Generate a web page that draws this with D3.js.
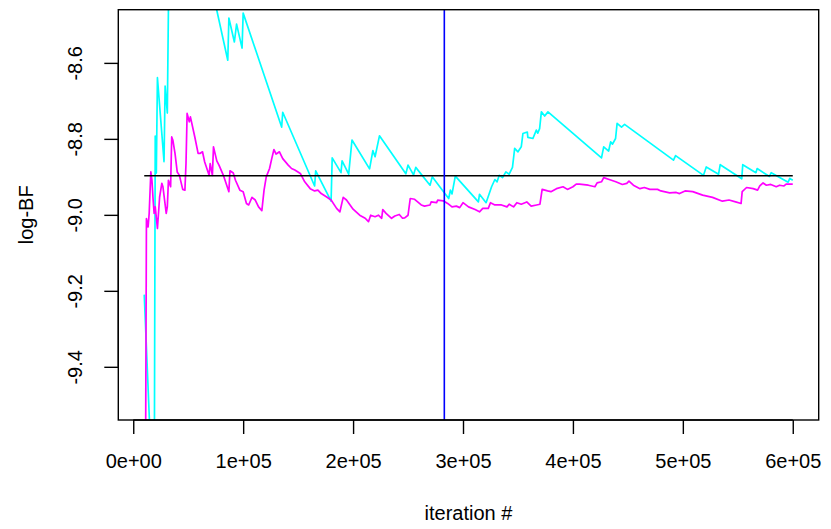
<!DOCTYPE html>
<html>
<head>
<meta charset="utf-8">
<script src="https://cdn.jsdelivr.net/npm/d3@7"></script>
<style>
  body { margin: 0; background: #fff; }
  svg { display: block; font-family: "Liberation Sans", Arial, sans-serif; }
</style>
</head>
<body>
<div id="chart"></div>
<script>

// iterations and log-BF estimates
const cyanIter = [10000, 15000, 19000, 20000, 21000, 22000, 28000, 29000, 31000, 32000, 34000, 45000, 55000, 66000,
  86000, 87000, 92000, 94000, 99000, 100000, 135000, 136000, 165000, 166000, 180000, 181000, 189000, 190000,
  196000, 199000, 215000, 218000, 220000, 224000, 248000, 250000, 255000, 257000, 270000, 272000, 283000,
  287000, 288500, 290000, 293000, 314000, 315000, 321000, 326000, 329000, 331000, 333000, 336000, 339000,
  342000, 345000, 347000, 350000, 353000, 354500, 358500, 359000, 363600, 366700, 368000, 369700, 371300,
  374300, 377300, 426000, 428000, 432500, 434300, 436000, 438800, 440200, 444200, 447000, 491500, 493400,
  518800, 521300, 532500, 534000, 553600, 554500, 566500, 567600, 578800, 580400, 595800, 597300, 600000];
const cyanLogBF = [-9.21, -9.56, -9.85, -8.793, -8.89, -8.639, -8.86, -8.661, -8.732, -8.459, -8.40, -8.29, -8.30, -8.33,
  -8.593, -8.482, -8.545, -8.498, -8.561, -8.469, -8.769, -8.730, -8.924, -8.884, -8.964, -8.850, -8.889, -8.858,
  -8.893, -8.803, -8.879, -8.831, -8.847, -8.792, -8.892, -8.869, -8.895, -8.875, -8.922, -8.900, -8.942,
  -8.957, -8.935, -8.945, -8.898, -8.966, -8.946, -8.968, -8.926, -8.907, -8.913, -8.896, -8.902, -8.887,
  -8.893, -8.875, -8.825, -8.834, -8.821, -8.786, -8.782, -8.796, -8.799, -8.777, -8.785, -8.773, -8.729,
  -8.740, -8.729, -8.850, -8.821, -8.832, -8.808, -8.814, -8.799, -8.759, -8.769, -8.762, -8.856, -8.844,
  -8.896, -8.874, -8.893, -8.868, -8.905, -8.868, -8.889, -8.878, -8.899, -8.889, -8.914, -8.904, -8.909];

const magentaIter = [10000, 11000, 12000, 13500, 14500, 16000, 17000, 18000, 19000, 20000, 22000, 24000, 26000, 27000,
  30000, 31000, 32000, 34000, 35000, 36000, 38000, 40000, 42000, 45000, 47000, 48000, 49000, 51000, 52000,
  56000, 59000, 61000, 63000, 65000, 69000, 70000, 72000, 73000, 76000, 78000, 82000, 87000, 88000, 91000,
  93000, 97000, 100000, 103000, 105000, 108000, 111000, 114000, 117000, 119000, 121000, 124000, 126000,
  128000, 130000, 133000, 136000, 141000, 144000, 147000, 152000, 156000, 161000, 165000, 168000, 171000,
  176000, 180000, 185000, 188000, 191000, 194000, 200000, 206000, 211000, 214000, 216000, 220000, 223000,
  226000, 227000, 230000, 235000, 238000, 242000, 245000, 247000, 250000, 252000, 256000, 262000, 265000,
  270000, 271000, 276000, 277000, 282000, 286000, 290000, 294000, 297000, 300000, 305000, 311000, 315000,
  318000, 323000, 325000, 329000, 335000, 340000, 342000, 346000, 349000, 353000, 358000, 362000, 367000,
  370000, 372000, 377000, 380000, 385000, 391000, 395000, 400000, 403000, 406000, 414000, 420000, 422000,
  426000, 428000, 433000, 439000, 445000, 449000, 451000, 455000, 461000, 465000, 470000, 477000, 480000,
  488000, 494000, 497000, 502000, 509000, 518000, 527000, 536000, 542000, 548000, 553000, 554000, 558000,
  564000, 568000, 570000, 573000, 576000, 580000, 585000, 588000, 592000, 594000, 600000];
const magentaLogBF = [-10.1, -9.80, -9.010, -9.032, -8.996, -8.887, -8.909, -8.957, -8.996, -8.979, -9.036, -8.953, -8.917, -8.926,
  -8.996, -8.979, -8.909, -8.926, -8.795, -8.803, -8.838, -8.887, -8.896, -8.933, -8.935, -8.865, -8.733, -8.755, -8.742,
  -8.795, -8.838, -8.838, -8.834, -8.861, -8.896, -8.865, -8.896, -8.821, -8.858, -8.869, -8.896, -8.939, -8.884, -8.890,
  -8.909, -8.935, -8.939, -8.970, -8.974, -8.954, -8.961, -8.979, -8.989, -8.935, -8.900, -8.878, -8.852,
  -8.828, -8.840, -8.834, -8.852, -8.869, -8.878, -8.882, -8.891, -8.913, -8.931, -8.937, -8.935, -8.944,
  -8.953, -8.961, -8.983, -8.992, -8.954, -8.961, -8.985, -9.001, -9.009, -9.018, -9.001, -9.005, -9.001,
  -9.009, -8.986, -8.996, -9.009, -9.003, -8.999, -9.009, -9.008, -9.001, -8.957, -8.959, -8.974, -8.977,
  -8.974, -8.966, -8.968, -8.961, -8.963, -8.970, -8.979, -8.977, -8.981, -8.968, -8.979, -8.986, -8.992,
  -8.983, -8.983, -8.968, -8.974, -8.974, -8.979, -8.972, -8.979, -8.968, -8.972, -8.966, -8.977, -8.974,
  -8.972, -8.933, -8.937, -8.939, -8.931, -8.926, -8.933, -8.926, -8.919, -8.919, -8.922, -8.926, -8.916,
  -8.913, -8.902, -8.907, -8.913, -8.920, -8.917, -8.911, -8.922, -8.931, -8.928, -8.933, -8.933, -8.937,
  -8.942, -8.941, -8.944, -8.937, -8.939, -8.948, -8.954, -8.964, -8.961, -8.966, -8.970, -8.939, -8.928,
  -8.931, -8.935, -8.924, -8.916, -8.922, -8.920, -8.926, -8.922, -8.924, -8.919, -8.919];

const refLogBF = -8.897;      // horizontal reference level
const refRange = [10000, 600000];
const markIter = 283000;      // vertical marker

const xLimits = [10000, 600000];
const yLimits = [-9.5, -8.5];
const xTicks = [0, 1e5, 2e5, 3e5, 4e5, 5e5, 6e5];
const xTickLabels = ["0e+00", "1e+05", "2e+05", "3e+05", "4e+05", "5e+05", "6e+05"];
const yTicks = [-9.4, -9.2, -9.0, -8.8, -8.6];
const yTickLabels = ["-9.4", "-9.2", "-9.0", "-8.8", "-8.6"];

const W = 831, H = 529;
const margin = {top: 9.7, right: 12.3, bottom: 109, left: 118.3};
const fontSize = 20;

// R-style 4% padding on both ends
function pad(lim) {
  const d = (lim[1] - lim[0]) * 0.04;
  return [lim[0] - d, lim[1] + d];
}

const svg = d3.select("#chart").append("svg")
  .attr("width", W)
  .attr("height", H);

const x = d3.scaleLinear().domain(pad(xLimits)).range([margin.left, W - margin.right]);
const y = d3.scaleLinear().domain(pad(yLimits)).range([H - margin.bottom, margin.top]);

svg.append("clipPath").attr("id", "plotclip")
  .append("rect")
  .attr("x", margin.left).attr("y", margin.top)
  .attr("width", W - margin.left - margin.right)
  .attr("height", H - margin.top - margin.bottom);

const plot = svg.append("g").attr("clip-path", "url(#plotclip)");

const line = d3.line()
  .x(d => x(d[0]))
  .y(d => y(d[1]));

plot.append("path")
  .attr("d", line(d3.zip(cyanIter, cyanLogBF)))
  .attr("fill", "none").attr("stroke", "#00ffff").attr("stroke-width", 1.7)
  .attr("stroke-linejoin", "round");

plot.append("path")
  .attr("d", line(d3.zip(magentaIter, magentaLogBF)))
  .attr("fill", "none").attr("stroke", "#ff00ff").attr("stroke-width", 1.7)
  .attr("stroke-linejoin", "round");

plot.append("path")
  .attr("d", line(refRange.map(v => [v, refLogBF])))
  .attr("fill", "none").attr("stroke", "#000").attr("stroke-width", 1.6);

plot.append("line")
  .attr("x1", x(markIter)).attr("x2", x(markIter))
  .attr("y1", margin.top).attr("y2", H - margin.bottom)
  .attr("stroke", "#0000ff").attr("stroke-width", 1.6);

// box
svg.append("rect")
  .attr("x", margin.left).attr("y", margin.top)
  .attr("width", W - margin.left - margin.right)
  .attr("height", H - margin.top - margin.bottom)
  .attr("fill", "none").attr("stroke", "#000").attr("stroke-width", 1.4);

// x axis
const xAxis = d3.axisBottom(x)
  .tickValues(xTicks)
  .tickFormat((d, i) => xTickLabels[i])
  .tickSize(14)
  .tickPadding(20);

const gx = svg.append("g")
  .attr("transform", `translate(0,${H - margin.bottom})`)
  .call(xAxis);
gx.select(".domain")
  .attr("d", `M${x(xTicks[0])},0H${x(xTicks[xTicks.length - 1])}`)
  .attr("stroke-width", 1.4);
gx.selectAll(".tick line").attr("stroke-width", 1.4);
gx.selectAll("text").attr("font-size", fontSize).attr("fill", "#000")
  .attr("font-family", "Liberation Sans, Arial, sans-serif");

// y axis
const yAxis = d3.axisLeft(y)
  .tickValues(yTicks)
  .tickFormat((d, i) => yTickLabels[i])
  .tickSize(14)
  .tickPadding(0);

const gy = svg.append("g")
  .attr("transform", `translate(${margin.left},0)`)
  .call(yAxis);
gy.select(".domain")
  .attr("d", `M0,${y(yTicks[0])}V${y(yTicks[yTicks.length - 1])}`)
  .attr("stroke-width", 1.4);
gy.selectAll(".tick line").attr("stroke-width", 1.4);
gy.selectAll("text")
  .attr("font-size", fontSize).attr("fill", "#000")
  .attr("font-family", "Liberation Sans, Arial, sans-serif")
  .attr("x", 0).attr("dy", null)
  .attr("text-anchor", "middle")
  .attr("transform", "translate(-36,0) rotate(-90)");

// axis titles
svg.append("text")
  .attr("x", (margin.left + W - margin.right) / 2)
  .attr("y", 520)
  .attr("text-anchor", "middle")
  .attr("font-size", fontSize)
  .text("iteration #");

svg.append("text")
  .attr("transform", `translate(33,${(margin.top + H - margin.bottom) / 2}) rotate(-90)`)
  .attr("text-anchor", "middle")
  .attr("font-size", fontSize)
  .text("log-BF");

</script>
</body>
</html>
